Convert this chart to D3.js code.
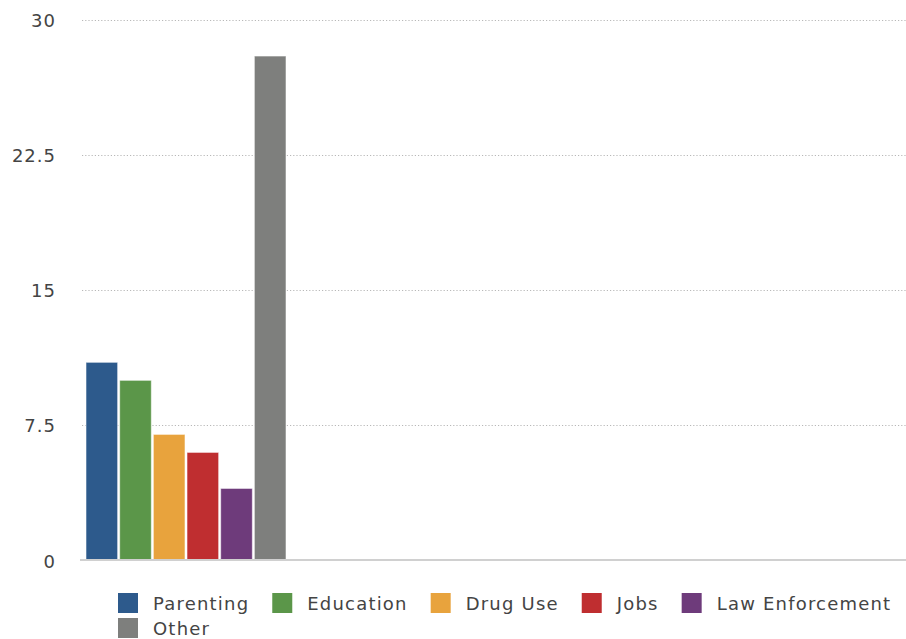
<!DOCTYPE html>
<html>
<head>
<meta charset="utf-8">
<script src="https://cdn.jsdelivr.net/npm/d3@7"></script>
<style>
html,body{margin:0;padding:0;background:#fff;}
svg{display:block;}
</style>
</head>
<body>
<svg id="chart" width="906" height="639"></svg>
<script>
const series = ["Parenting", "Education", "Drug Use", "Jobs", "Law Enforcement", "Other"];
const values = [11, 10, 7, 6, 4, 28];
const colors = ["#2d5a8c", "#5b9649", "#e8a33d", "#bf2e30", "#6e3b7b", "#7e7f7d"];
const yTicks = [0, 7.5, 15, 22.5, 30];
const yTickLabels = ["0", "7.5", "15", "22.5", "30"];

const svg = d3.select("#chart");
const W = 906;
const y = d3.scaleLinear().domain([0, 30]).range([560.5, 20]);
const x = d3.scaleBand().domain(series).range([86, 286]).paddingInner(0.06).paddingOuter(0);
const color = d3.scaleOrdinal().domain(series).range(colors);

// gridlines
svg.append("g").selectAll("line").data(yTicks.filter(d => d > 0)).join("line")
  .attr("x1", 82).attr("x2", W)
  .attr("y1", d => Math.round(y(d)) + 0.5).attr("y2", d => Math.round(y(d)) + 0.5)
  .attr("stroke", "#b8b8b8").attr("stroke-width", 1).attr("stroke-dasharray", "1.2,2");

// y axis labels
svg.append("g").selectAll("text").data(yTicks).join("text")
  .attr("x", 56).attr("y", d => y(d) + 7)
  .attr("text-anchor", "end")
  .attr("font-family", "DejaVu Sans, sans-serif").attr("font-size", 18)
  .attr("letter-spacing", 1)
  .attr("fill", "#444")
  .text((d, i) => yTickLabels[i]);

// bars
svg.append("g").selectAll("rect").data(series).join("rect")
  .attr("x", d => x(d))
  .attr("y", (d, i) => y(values[i]))
  .attr("width", x.bandwidth())
  .attr("height", (d, i) => y(0) - y(values[i]))
  .attr("fill", d => color(d))
  .attr("stroke", "rgba(255,255,255,0.55)").attr("stroke-width", 1);

// baseline
svg.append("line").attr("x1", 80).attr("x2", W)
  .attr("y1", 560).attr("y2", 560)
  .attr("stroke", "#d0d0d0").attr("stroke-width", 2);

// legend (flow layout)
const lg = svg.append("g").attr("font-family", "DejaVu Sans, sans-serif").attr("font-size", 18);
let lx = 118, ly = 593;
const sw = 20, gapText = 15, gapItem = 23, maxX = 900, rowH = 25;
series.forEach((s, i) => {
  const t = lg.append("text").attr("letter-spacing", 1.2).attr("fill", "#444").text(s);
  const tw = t.node().getComputedTextLength();
  if (lx + sw + gapText + tw > maxX) { lx = 118; ly += rowH; }
  lg.append("rect").attr("x", lx).attr("y", ly).attr("width", sw).attr("height", sw).attr("fill", color(s));
  t.attr("x", lx + sw + gapText).attr("y", ly + 17);
  lx += sw + gapText + tw + gapItem;
});
</script>
</body>
</html>
